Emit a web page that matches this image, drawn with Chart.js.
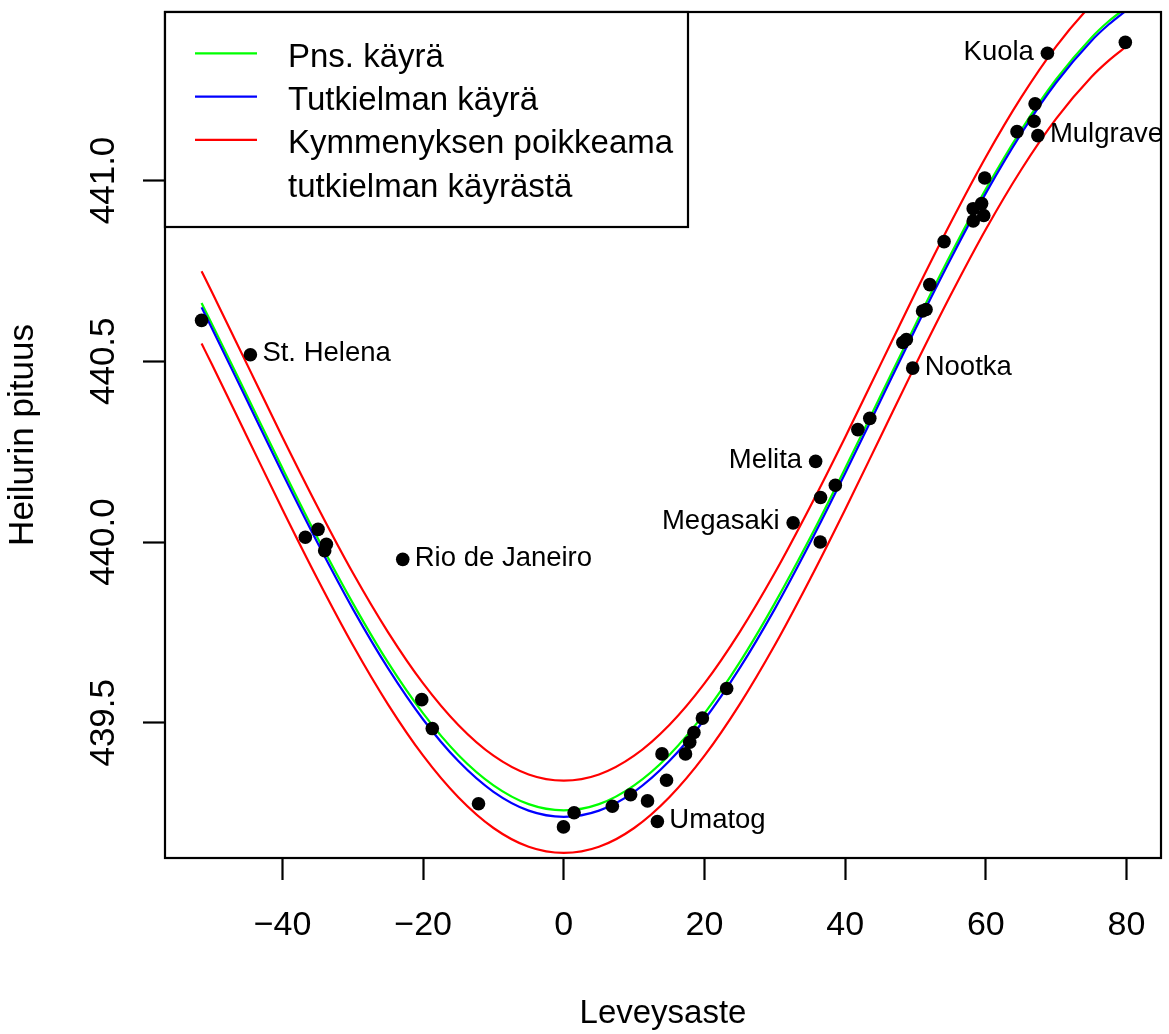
<!DOCTYPE html>
<html><head><meta charset="utf-8">
<script src="https://cdn.jsdelivr.net/npm/chart.js@4"></script>
<style>html,body{margin:0;padding:0;background:#fff;overflow:hidden;}#wrap{width:1169px;height:1034px;}canvas{display:block;}</style>
</head><body><div id="wrap"><canvas id="c" width="1169" height="1034"></canvas></div>
<script>
// ---- data ----
const latitude = [-51.5, -44.56, -36.75, -34.94, -34.0, -33.76, -22.9, -20.2, -18.7, -12.13, -0.05, 1.46, 6.9, 9.5, 11.9, 13.3, 13.96, 14.6, 17.3, 17.9, 18.5, 19.7, 23.15, 32.6, 35.8, 36.45, 36.5, 38.6, 41.8, 43.5, 48.2, 48.7, 49.6, 51.0, 51.5, 52.03, 54.06, 58.2, 58.2, 59.4, 59.7, 59.84, 64.43, 66.85, 67.0, 67.4, 68.75, 79.83];
const pendulumLength = [440.613, 440.518, 440.013, 440.035, 439.976, 439.994, 439.952, 439.564, 439.484, 439.276, 439.212, 439.251, 439.269, 439.301, 439.284, 439.227, 439.414, 439.341, 439.414, 439.446, 439.473, 439.513, 439.595, 440.053, 440.223, 440.000, 440.123, 440.157, 440.311, 440.342, 440.552, 440.560, 440.481, 440.639, 440.643, 440.712, 440.831, 440.922, 440.888, 440.936, 440.903, 441.007, 441.135, 441.164, 441.212, 441.124, 441.352, 441.382];
const placeNames = ['', 'St. Helena', '', '', '', '', 'Rio de Janeiro', '', '', '', '', '', '', '', '', 'Umatog', '', '', '', '', '', '', '', 'Megasaki', 'Melita', '', '', '', '', '', '', '', 'Nootka', '', '', '', '', '', '', '', '', '', '', '', '', 'Mulgrave', 'Kuola', ''];
const namesOnLeft = ['Megasaki', 'Melita', 'Kuola'];

const curveLatitude = [-51.5, -50, -45, -40, -35, -30, -25, -20, -15, -10, -5, 0, 5, 10, 15, 20, 25, 30, 35, 40, 45, 50, 55, 60, 65, 70, 75, 77.5, 79.8];
const pnsCurve = [440.661, 440.602, 440.403, 440.204, 440.011, 439.831, 439.667, 439.526, 439.411, 439.327, 439.275, 439.258, 439.275, 439.327, 439.411, 439.526, 439.667, 439.831, 440.011, 440.204, 440.403, 440.602, 440.795, 440.976, 441.139, 441.280, 441.395, 441.441, 441.476];
const thesisCurve = [440.649, 440.590, 440.390, 440.190, 439.997, 439.815, 439.651, 439.509, 439.394, 439.309, 439.257, 439.240, 439.257, 439.309, 439.394, 439.509, 439.651, 439.815, 439.997, 440.190, 440.390, 440.590, 440.783, 440.965, 441.129, 441.271, 441.386, 441.432, 441.468];
const upperDeviation = [440.749, 440.690, 440.490, 440.290, 440.097, 439.915, 439.751, 439.609, 439.494, 439.409, 439.357, 439.340, 439.357, 439.409, 439.494, 439.609, 439.751, 439.915, 440.097, 440.290, 440.490, 440.690, 440.883, 441.065, 441.229, 441.371, 441.486, 441.532, 441.568];
const lowerDeviation = [440.549, 440.490, 440.290, 440.090, 439.897, 439.715, 439.551, 439.409, 439.294, 439.209, 439.157, 439.140, 439.157, 439.209, 439.294, 439.409, 439.551, 439.715, 439.897, 440.090, 440.290, 440.490, 440.683, 440.865, 441.029, 441.171, 441.286, 441.332, 441.368];

const xTickValues = [-40, -20, 0, 20, 40, 60, 80];
const yTickValues = [439.5, 440.0, 440.5, 441.0];
const xTitle = 'Leveysaste';
const yTitle = 'Heilurin pituus';
const legendLabels = [['Pns. käyrä'], ['Tutkielman käyrä'], ['Kymmenyksen poikkeama', 'tutkielman käyrästä']];
const legendColors = ['#00ff00', '#0000ff', '#ff0000'];

// ---- drawing ----
const FAM = '"Liberation Sans", Arial, Helvetica, sans-serif';
const toXY = (xs, ys) => xs.map((x, i) => ({x: x, y: ys[i]}));
const lineDs = (label, ys, color) => ({
  type: 'line', label: label, data: toXY(curveLatitude, ys),
  borderColor: color, borderWidth: 2.2, pointRadius: 0, pointHoverRadius: 0,
  fill: false, cubicInterpolationMode: 'monotone'
});

const framePlugin = {
  id: 'frame',
  afterDatasetsDraw(chart) {
    const a = chart.chartArea, ctx = chart.ctx;
    ctx.save();
    ctx.strokeStyle = '#000'; ctx.lineWidth = 2.2;
    ctx.strokeRect(a.left, a.top, a.right - a.left, a.bottom - a.top);
    ctx.restore();
  }
};

const labelPlugin = {
  id: 'pointNames',
  afterDatasetsDraw(chart) {
    const ctx = chart.ctx, xs = chart.scales.x, ys = chart.scales.y;
    ctx.save();
    ctx.fillStyle = '#000';
    ctx.font = '27.5px ' + FAM;
    ctx.textBaseline = 'alphabetic';
    placeNames.forEach((n, i) => {
      if (!n) return;
      const px = xs.getPixelForValue(latitude[i]);
      const py = ys.getPixelForValue(pendulumLength[i]);
      if (namesOnLeft.includes(n)) { ctx.textAlign = 'right'; ctx.fillText(n, px - 13.5, py + 6.5); }
      else { ctx.textAlign = 'left'; ctx.fillText(n, px + 12, py + 6.5); }
    });
    ctx.restore();
  }
};

const legendPlugin = {
  id: 'boxLegend',
  afterDraw(chart) {
    const ctx = chart.ctx, a = chart.chartArea;
    const L = a.left, T = a.top, R = 688, B = 227;
    ctx.save();
    ctx.fillStyle = '#fff';
    ctx.fillRect(L, T, R - L, B - T);
    ctx.strokeStyle = '#000'; ctx.lineWidth = 2.2;
    ctx.strokeRect(L, T, R - L, B - T);
    ctx.font = '33px ' + FAM;
    ctx.textAlign = 'left'; ctx.textBaseline = 'alphabetic';
    let base = 66.7;
    legendLabels.forEach((lines, k) => {
      ctx.strokeStyle = legendColors[k]; ctx.lineWidth = 2.2;
      ctx.beginPath(); ctx.moveTo(195, base - 13.4); ctx.lineTo(257, base - 13.4); ctx.stroke();
      ctx.fillStyle = '#000';
      lines.forEach(t => { ctx.fillText(t, 288, base); base += 43.3; });
    });
    ctx.restore();
  }
};

new Chart(document.getElementById('c'), {
  type: 'scatter',
  data: {
    datasets: [
      { type: 'scatter', label: 'Havainnot', data: toXY(latitude, pendulumLength),
        backgroundColor: '#000', borderWidth: 0, pointRadius: 6.8, pointHoverRadius: 6.8 },
      lineDs('Tutkielman käyrä', thesisCurve, '#0000ff'),
      lineDs('Pns. käyrä', pnsCurve, '#00ff00'),
      lineDs('Kymmenyksen poikkeama (+)', upperDeviation, '#ff0000'),
      lineDs('Kymmenyksen poikkeama (−)', lowerDeviation, '#ff0000')
    ]
  },
  options: {
    responsive: false, animation: false, events: [],
    layout: { padding: { top: 12, right: 8, left: 0, bottom: 0 }, autoPadding: false },
    plugins: { legend: { display: false }, tooltip: { enabled: false } },
    scales: {
      x: {
        type: 'linear', min: -56.7, max: 84.9,
        afterBuildTicks: s => { s.ticks = xTickValues.map(v => ({value: v})); },
        afterFit: s => { s.height = 176; s.paddingLeft = 0; s.paddingRight = 0; s.paddingTop = 0; s.paddingBottom = 0; },
        grid: { drawOnChartArea: false, drawTicks: true, tickLength: 22, tickWidth: 2.2, tickColor: '#000', offset: false },
        border: { display: false },
        ticks: { color: '#000', font: { family: FAM, size: 34, lineHeight: 1 }, padding: 29,
                 minRotation: 0, maxRotation: 0, autoSkip: false,
                 callback: v => v < 0 ? '\u2212' + Math.abs(v) : String(v) },
        title: { display: true, text: xTitle, color: '#000', font: { family: FAM, size: 33, lineHeight: 1 }, padding: { top: 0, bottom: 4 } }
      },
      y: {
        type: 'linear', min: 439.126, max: 441.466,
        afterBuildTicks: s => { s.ticks = yTickValues.map(v => ({value: v})); },
        afterFit: s => { s.width = 165; s.paddingLeft = 0; s.paddingRight = 0; s.paddingTop = 0; s.paddingBottom = 0; },
        grid: { drawOnChartArea: false, drawTicks: true, tickLength: 22, tickWidth: 2.2, tickColor: '#000' },
        border: { display: false },
        ticks: { color: '#000', font: { family: FAM, size: 35, lineHeight: 1 }, padding: -5.4, crossAlign: 'center',
                 minRotation: 90, maxRotation: 90, autoSkip: false,
                 callback: v => Number(v).toFixed(1) },
        title: { display: true, text: yTitle, color: '#000', font: { family: FAM, size: 35, lineHeight: 1 }, padding: { top: 5.4, bottom: 0 } }
      }
    }
  },
  plugins: [framePlugin, labelPlugin, legendPlugin]
});
</script>
</body></html>
